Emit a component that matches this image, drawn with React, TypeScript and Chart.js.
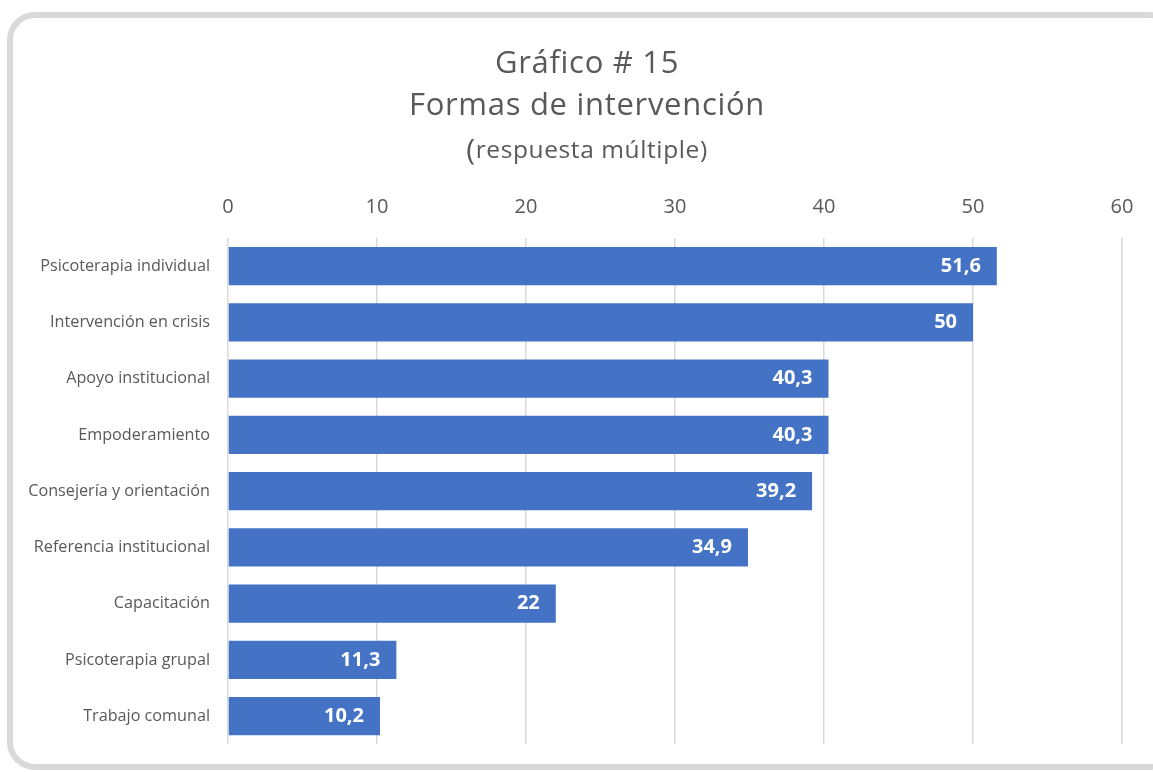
import React, { useEffect, useRef } from "react";
import { Chart, registerables } from "chart.js";

Chart.register(...registerables);

const categories = [
  "Psicoterapia individual",
  "Intervención en crisis",
  "Apoyo institucional",
  "Empoderamiento",
  "Consejería y orientación",
  "Referencia institucional",
  "Capacitación",
  "Psicoterapia grupal",
  "Trabajo comunal",
];
const values = [51.6, 50, 40.3, 40.3, 39.2, 34.9, 22, 11.3, 10.2];
const titleLines = ["Gráfico # 15", "Formas de intervención"];
const subtitleText = "respuesta múltiple)";
const subtitleParen = "(";
const xMin = 0;
const xMax = 60;
const xStep = 10;

const FONT = "'Open Sans', Lato, 'Liberation Sans', sans-serif";
const TEXT = "#595959";

const titlePlugin = {
  id: "customTitle",
  afterDraw(chart: any) {
    const ctx = chart.ctx;
    const cx = 587;
    ctx.save();
    ctx.fillStyle = TEXT;
    ctx.textBaseline = "alphabetic";
    ctx.textAlign = "center";
    (ctx as any).letterSpacing = "0.7px";
    ctx.font = `31px ${FONT}`;
    ctx.fillText(titleLines[0], cx, 73);
    ctx.fillText(titleLines[1], cx, 115);
    (ctx as any).letterSpacing = "0.6px";
    ctx.font = `30px ${FONT}`;
    const wp = ctx.measureText(subtitleParen).width;
    ctx.font = `24.5px ${FONT}`;
    const ws = ctx.measureText(subtitleText).width;
    const start = cx - (wp + ws) / 2;
    ctx.textAlign = "left";
    ctx.font = `30px ${FONT}`;
    ctx.fillText(subtitleParen, start, 160);
    ctx.font = `24.5px ${FONT}`;
    ctx.fillText(subtitleText, start + wp, 158);
    ctx.restore();
  },
};

const labelPlugin = {
  id: "barLabels",
  afterDatasetsDraw(chart: any) {
    const ctx = chart.ctx;
    const meta = chart.getDatasetMeta(0);
    ctx.save();
    ctx.fillStyle = "#FFFFFF";
    ctx.font = `bold 20px ${FONT}`;
    ctx.textAlign = "right";
    ctx.textBaseline = "middle";
    meta.data.forEach((bar: any, i: number) => {
      const txt = String(values[i]).replace(".", ",");
      ctx.fillText(txt, bar.x - 16, bar.y);
    });
    ctx.restore();
  },
};

export default function App() {
  const ref = useRef<HTMLCanvasElement | null>(null);

  useEffect(() => {
    if (!ref.current) return;
    const chart = new Chart(ref.current, {
      type: "bar",
      data: {
        labels: categories,
        datasets: [
          {
            data: values,
            backgroundColor: "#4472C4",
            borderWidth: 0,
            barPercentage: 0.68,
            categoryPercentage: 1,
          },
        ],
      },
      options: {
        indexAxis: "y",
        animation: false,
        responsive: false,
        layout: { padding: { left: 0, right: 31, top: 0, bottom: 26 } },
        plugins: {
          legend: { display: false },
          title: { display: false },
          tooltip: { enabled: false },
        },
        scales: {
          x: {
            position: "top",
            min: xMin,
            max: xMax,
            ticks: {
              stepSize: xStep,
              color: TEXT,
              font: { family: FONT, size: 20 },
              padding: 19,
            },
            grid: { color: "#D9D9D9", lineWidth: 1.5, drawTicks: false },
            border: { display: false },
            afterFit: (scale: any) => {
              scale.height = 238;
            },
          },
          y: {
            ticks: {
              color: TEXT,
              font: { family: FONT, size: 16.2 },
              padding: 18,
            },
            grid: { display: false, drawTicks: false },
            border: { display: false },
            afterFit: (scale: any) => {
              scale.width = 228;
            },
          },
        },
      },
      plugins: [titlePlugin, labelPlugin],
    });
    return () => chart.destroy();
  }, []);

  return (
    <div
      style={{
        position: "fixed",
        left: 0,
        top: 0,
        width: 1153,
        height: 772,
        overflow: "hidden",
        background: "#FFFFFF",
      }}
    >
      <div
        style={{
          position: "absolute",
          left: 7,
          top: 12,
          width: 1170,
          height: 758,
          border: "6px solid #D9D9D9",
          borderRadius: 28,
          boxSizing: "border-box",
        }}
      />
      <canvas
        ref={ref}
        width={1153}
        height={772}
        style={{ position: "absolute", left: 0, top: 0 }}
      />
    </div>
  );
}
